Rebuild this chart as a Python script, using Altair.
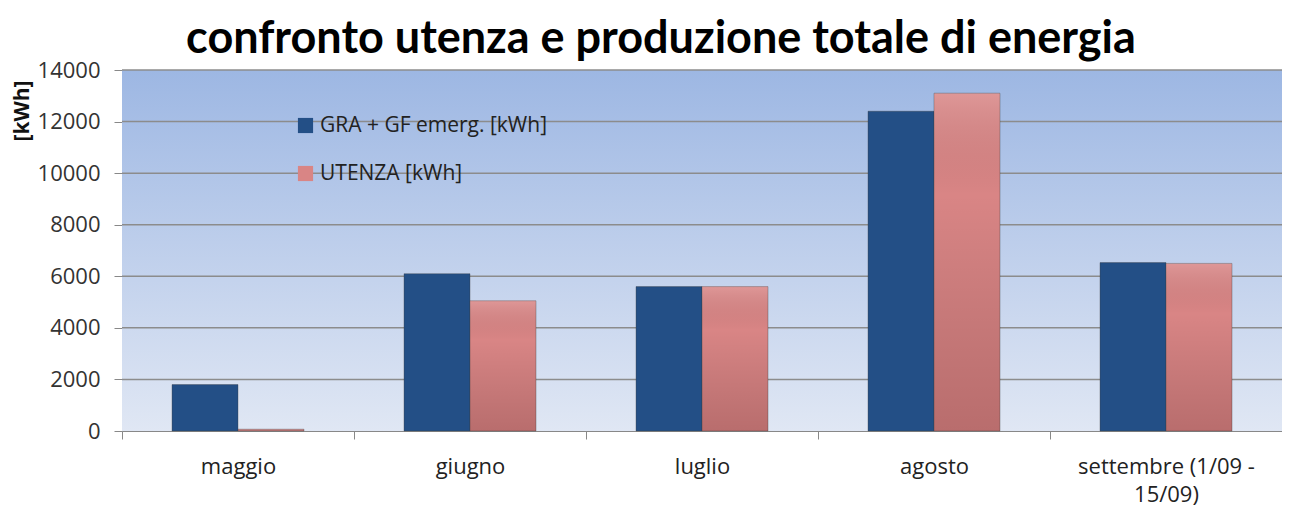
import altair as alt
import pandas as pd

months = ["maggio", "giugno", "luglio", "agosto", "settembre (1/09 - 15/09)"]
gra = [1800, 6100, 5600, 12400, 6530]
utenza = [70, 5050, 5600, 13100, 6500]
series = ["GRA + GF emerg. [kWh]", "UTENZA [kWh]"]
y_ticks = [0, 2000, 4000, 6000, 8000, 10000, 12000, 14000]

rows = []
for m, a, b in zip(months, gra, utenza):
    rows.append({"mese": m, "serie": series[0], "kWh": a})
    rows.append({"mese": m, "serie": series[1], "kWh": b})
df = pd.DataFrame(rows)
grid_df = pd.DataFrame({"v": y_ticks[1:]})

W, H = 1160, 361
FONT = "Open Sans"
TFONT = "Lato"

yscale = alt.Scale(domain=[0, 14000], nice=False)
y_axis = alt.Axis(
    values=y_ticks, format="d", labelFontSize=22, labelColor="#333333", labelFont=FONT,
    labelPadding=14, tickSize=8, tickColor="#888888", domainColor="#888888",
    grid=False,
    titleFont=FONT, titleFontSize=21, titleFontWeight="bold", titleColor="#111111",
    titleAngle=270, titleAlign="right", titleBaseline="middle",
    titleX=-100, titleY=10,
)

background = alt.Chart(pd.DataFrame({"a": [0]})).mark_rect(
    fill=alt.Gradient(
        gradient="linear", x1=0, x2=0, y1=0, y2=1,
        stops=[
            alt.GradientStop(color="#9db7e3", offset=0),
            alt.GradientStop(color="#e0e7f4", offset=1),
        ],
    )
).encode(x=alt.value(0), x2=alt.value(W), y=alt.value(0), y2=alt.value(H))

grid = alt.Chart(grid_df).mark_rule(color="#8c8c8c", strokeWidth=1.5).encode(
    y=alt.Y("v:Q", scale=yscale, title="[kWh]", axis=y_axis)
)

x_enc = alt.X(
    "mese:N", sort=months, title=None,
    scale=alt.Scale(paddingInner=0, paddingOuter=0),
    axis=alt.Axis(
        labelAngle=0, labelFontSize=22, labelColor="#222222", labelFont=FONT,
        labelPadding=17, tickBand="extent", tickSize=8, tickColor="#888888",
        domainColor="#888888", grid=False, labelLineHeight=28,
        labelExpr="datum.label == 'settembre (1/09 - 15/09)' ? ['settembre (1/09 -', '15/09)'] : datum.label",
    ),
)
xoff = alt.XOffset("serie:N", sort=series, scale=alt.Scale(paddingInner=0, paddingOuter=0.758))

bars = alt.Chart(df).mark_bar(stroke="#3a3a3a", strokeOpacity=0.35, strokeWidth=1).encode(
    x=x_enc,
    xOffset=xoff,
    y=alt.Y("kWh:Q", scale=yscale, title="[kWh]"),
    color=alt.Color(
        "serie:N", sort=series,
        scale=alt.Scale(domain=series, range=["#234f86", "#d98585"]),
        legend=alt.Legend(
            title=None, orient="none", legendX=173, legendY=45,
            symbolType="square", symbolSize=230, symbolStrokeWidth=0,
            labelFontSize=21, labelFont=FONT, labelColor="#222222",
            rowPadding=26, labelOffset=4, labelLimit=500,
        ),
    ),
)

shade = alt.Chart(df).transform_filter(
    alt.datum.serie == series[1]
).mark_bar(
    fill=alt.Gradient(
        gradient="linear", x1=0, x2=0, y1=0, y2=1,
        stops=[
            alt.GradientStop(color="rgba(255,255,255,0.15)", offset=0),
            alt.GradientStop(color="rgba(0,0,0,0)", offset=0.3),
            alt.GradientStop(color="rgba(40,0,0,0.18)", offset=1),
        ],
    )
).encode(
    x=alt.X("mese:N", sort=months),
    xOffset=xoff,
    y=alt.Y("kWh:Q", scale=yscale),
)

chart = alt.layer(background, grid, bars, shade).properties(
    width=W, height=H,
    title=alt.TitleParams(
        "confronto utenza e produzione totale di energia",
        font=TFONT, fontSize=45, fontWeight="bold", color="#000000",
        anchor="middle", dx=-41, offset=-3,
    ),
    autosize=alt.AutoSizeParams(type="none"),
    padding={"left": 114, "top": 62, "right": 0, "bottom": 78},
).configure_view(stroke=None)

chart.save("out.html", embed_options={"renderer": "svg", "actions": False})
